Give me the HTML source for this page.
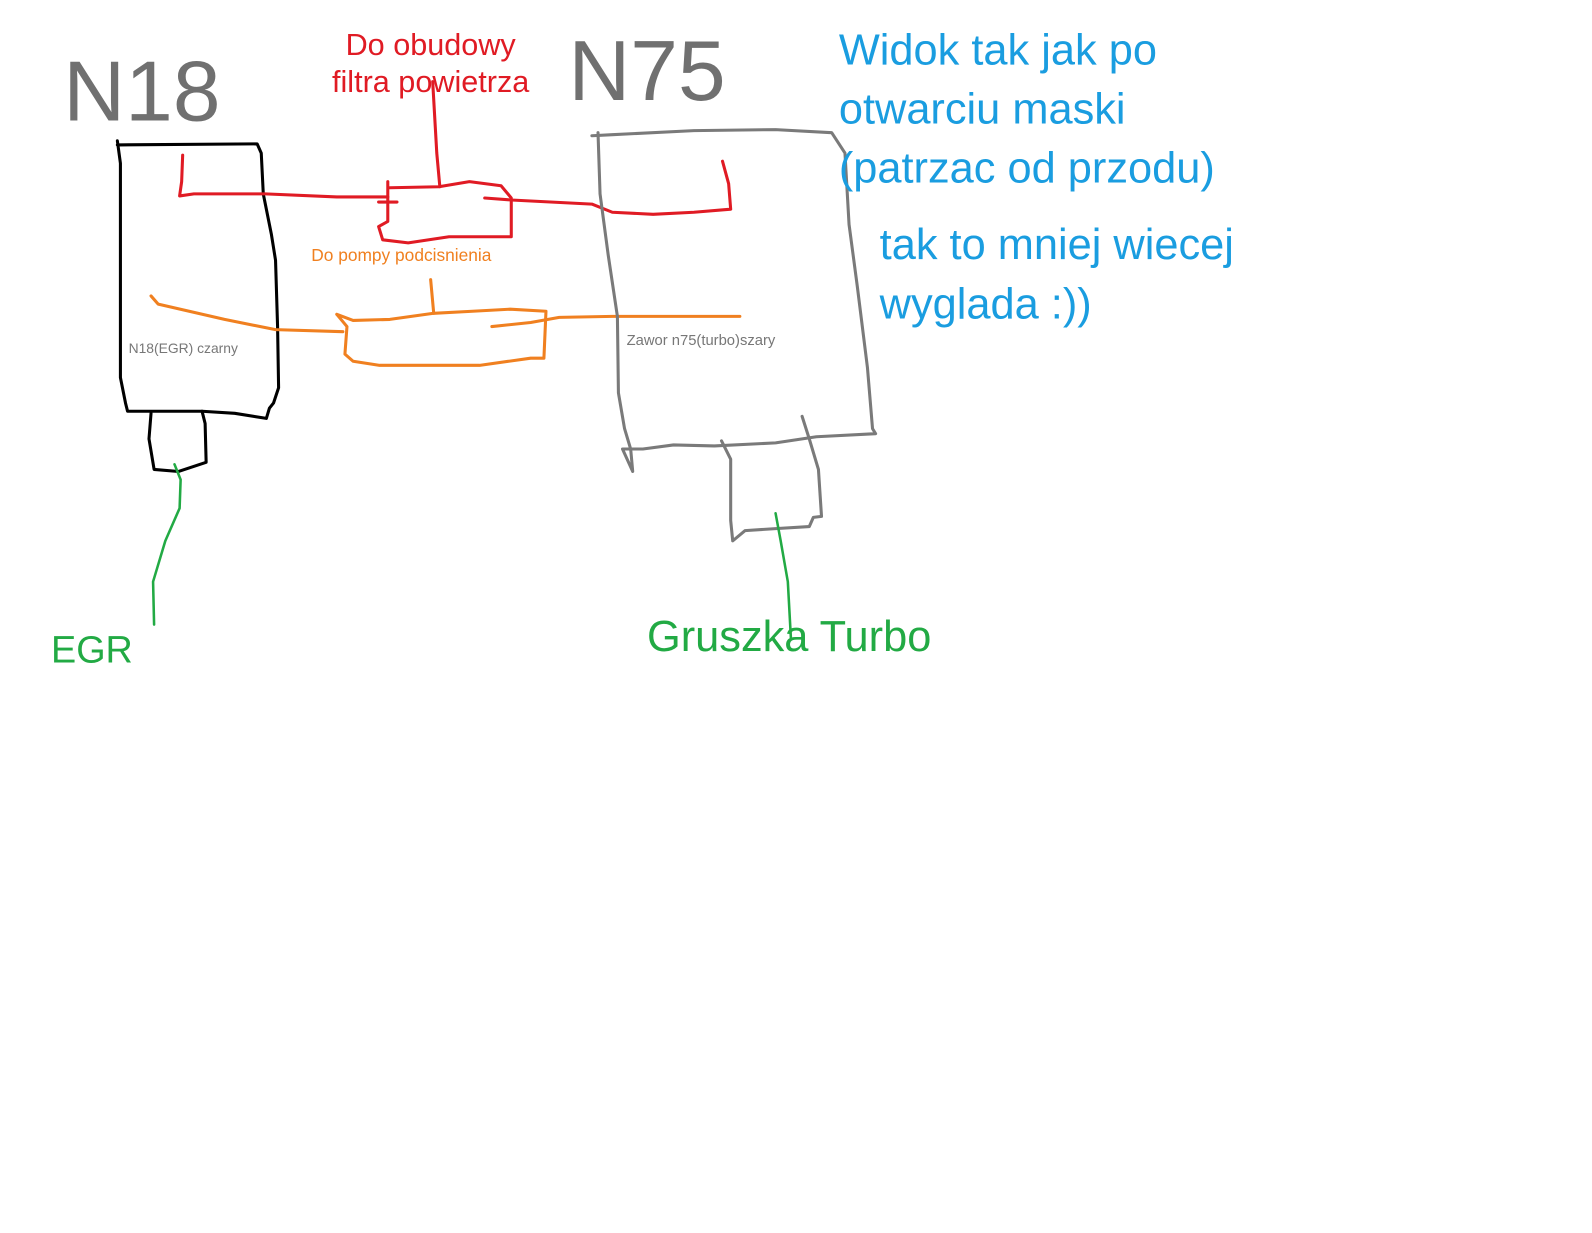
<!DOCTYPE html>
<html><head><meta charset="utf-8"><style>
html,body{margin:0;padding:0;background:#fff;}
svg{display:block;}
text{font-family:"Liberation Sans",sans-serif;}
</style></head><body>
<svg width="1592" height="1233" viewBox="0 0 1592 1233" xmlns="http://www.w3.org/2000/svg">
<g transform="scale(1.0205)">
<g fill="none" stroke-linejoin="round" stroke-linecap="round">
<polyline stroke="#000" stroke-width="3" points="115,138 118,160 118,370 123,395 125,403 198,403 230,405 261,410 264,400 268,395 273,380 272,320 270,255 266,230 258,190 256,150 252,141 115,142"/>
<polyline stroke="#000" stroke-width="3" points="148,405 146,430 151,460 175,462 202,453 201,415 198,403"/>
<polyline stroke="#22aa44" stroke-width="2.5" points="171,455 177,470 176,498 162,530 150,570 151,612"/>
<polyline stroke="#e01b24" stroke-width="3" points="179,152 178,178 176,192 190,190 260,190 330,193 380,193"/>
<polyline stroke="#e01b24" stroke-width="3" points="371,198 389,198"/>
<polyline stroke="#e01b24" stroke-width="3" points="380,178 380,217 371,222 375,235 400,238 440,232 501,232 501,194 491,182 460,178 430,183 382,184"/>
<polyline stroke="#e01b24" stroke-width="3" points="424,80 428,150 431,183"/>
<polyline stroke="#e01b24" stroke-width="3" points="475,194 501,196 580,200 600,208 640,210 680,208 716,205 714,180 708,158"/>
<polyline stroke="#f08020" stroke-width="3" points="148,290 155,298 220,313 270,323 336,325"/>
<polyline stroke="#f08020" stroke-width="3" points="330,308 340,320 338,347 346,354 372,358 470,358 520,351 533,351 535,305 500,303 463,305 425,307 382,313 346,314 330,308"/>
<polyline stroke="#f08020" stroke-width="3" points="422,274 425,307"/>
<polyline stroke="#f08020" stroke-width="3" points="482,320 520,316 548,311 600,310 725,310"/>
<polyline stroke="#7a7a7a" stroke-width="3" points="580,133 600,132 680,128 760,127 815,130 828,150 832,220 840,280 850,360 855,420 858,425 800,428 760,434 700,437 660,436 630,440 610,440 620,462 618,440"/>
<polyline stroke="#7a7a7a" stroke-width="3" points="586,130 588,190 596,250 605,310 606,385 612,420 618,440"/>
<polyline stroke="#7a7a7a" stroke-width="3" points="707,432 716,450 716,510 718,530 730,520 760,518 793,516 797,507 805,506 802,460 793,430 786,408"/>
<polyline stroke="#22aa44" stroke-width="2.5" points="760,503 765,530 772,570 775,625"/>
</g>
<text x="62" y="118" font-size="84" fill="#707070">N18</text>
<text x="557" y="98" font-size="84" fill="#707070">N75</text>
<text x="422" y="54" font-size="30" fill="#e01b24" text-anchor="middle">Do obudowy</text>
<text x="422" y="90" font-size="30" fill="#e01b24" text-anchor="middle">filtra powietrza</text>
<text x="305" y="256" font-size="17" fill="#f08020">Do pompy podcisnienia</text>
<text x="126" y="346" font-size="13.6" fill="#777">N18(EGR) czarny</text>
<text x="614" y="338" font-size="14.5" fill="#777">Zawor n75(turbo)szary</text>
<g font-size="42.5" fill="#1a9de0">
<text x="822" y="63">Widok tak jak po</text>
<text x="822" y="121">otwarciu maski</text>
<text x="822" y="179">(patrzac od przodu)</text>
<text x="862" y="254">tak to mniej wiecej</text>
<text x="862" y="312">wyglada :))</text>
</g>
<text x="50" y="649" font-size="37" fill="#22aa44">EGR</text>
<text x="634" y="638" font-size="42.5" fill="#22aa44">Gruszka Turbo</text>
</g>
</svg>
</body></html>
